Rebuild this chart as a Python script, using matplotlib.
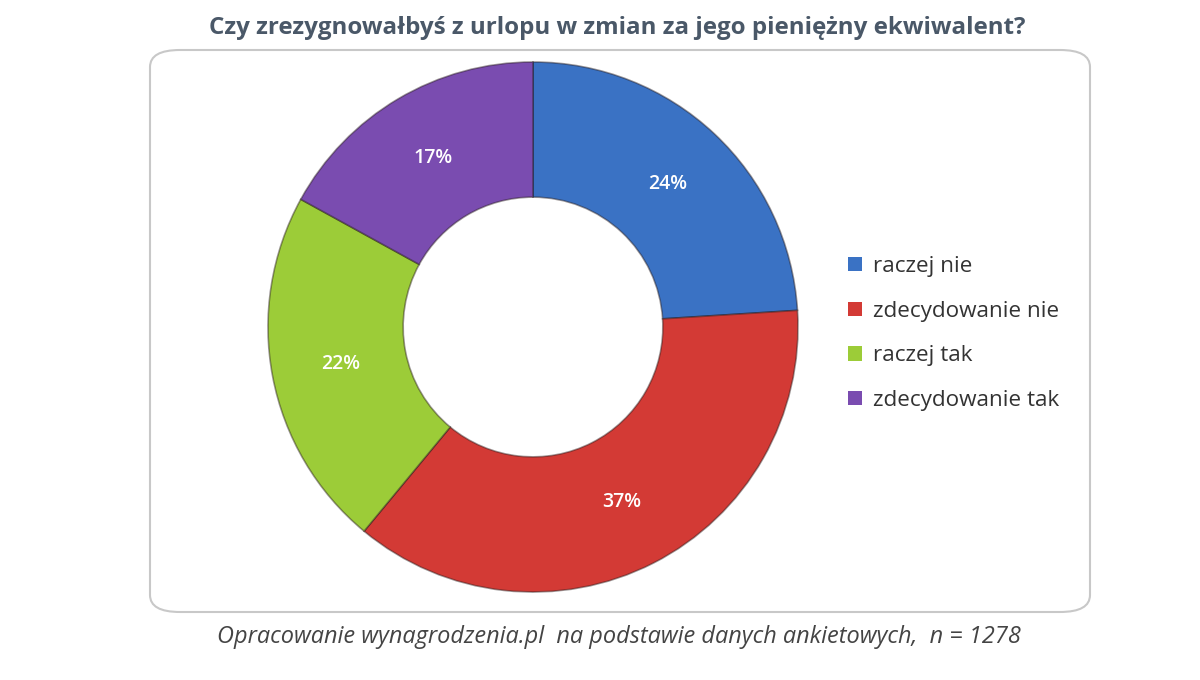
import matplotlib
matplotlib.use("Agg")
import matplotlib.pyplot as plt
from matplotlib.patches import FancyBboxPatch, Patch

title = "Czy zrezygnowałbyś z urlopu w zmian za jego pieniężny ekwiwalent?"
footer = "Opracowanie wynagrodzenia.pl  na podstawie danych ankietowych,  n = 1278"
categories = ["raczej nie", "zdecydowanie nie", "raczej tak", "zdecydowanie tak"]
values = [24, 37, 22, 17]
colors = ["#3a72c4", "#d33a35", "#9ccc38", "#7a4cb0"]

W, H = 1200, 680
fig = plt.figure(figsize=(12, 6.8), dpi=100)
fig.patch.set_facecolor("white")

# rounded frame
frame = FancyBboxPatch((150 / W, (H - 612) / H), (1090 - 150) / W, (612 - 50) / H,
                       boxstyle="round,pad=0,rounding_size=0.025",
                       transform=fig.transFigure, facecolor="none",
                       edgecolor="#c8c8c8", linewidth=1.5, zorder=-1)
fig.patches.append(frame)

cx, cy, R = 533, 327, 265
ax = fig.add_axes([(cx - R) / W, (H - cy - R) / H, 2 * R / W, 2 * R / H])
ax.set_zorder(2)
wedges, texts, autotexts = ax.pie(
    values, colors=colors, startangle=90, counterclock=False,
    autopct=lambda p: f"{p:.0f}%", pctdistance=0.74, radius=1,
    wedgeprops=dict(width=0.51, edgecolor=(0.15, 0.1, 0.1, 0.45), linewidth=1.2),
    textprops=dict(color="white", fontsize=14, fontfamily="Open Sans", fontweight="semibold"))
ax.set_xlim(-1.0, 1.0)
ax.set_ylim(-1.0, 1.0)
ax.set_aspect("equal")
ax.axis("off")

fig.text(0.514, 1 - 28 / H, title, ha="center", va="center", fontsize=17.4,
         fontweight="bold", family="Open Sans", color="#4a5868")
fig.text(0.516, 1 - 637 / H, footer, ha="center", va="center", fontsize=16.9,
         style="italic", family="Open Sans", color="#444444")

handles = [Patch(facecolor=c, edgecolor="none") for c in colors]
fig.legend(handles, categories, loc="upper left",
           bbox_to_anchor=(828 / W, 1 - 236 / H), frameon=False,
           handlelength=0.6, handleheight=0.6, handletextpad=0.5,
           labelspacing=1.05, prop=dict(family="Open Sans", size=16.2),
           labelcolor="#333333")

fig.savefig("out.png", dpi=100, facecolor="white")
